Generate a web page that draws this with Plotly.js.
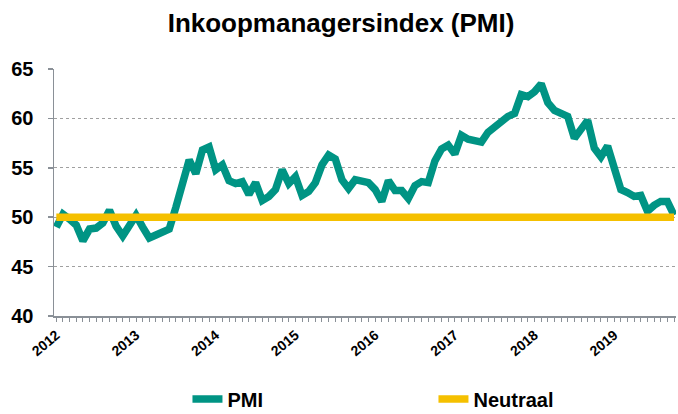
<!DOCTYPE html>
<html>
<head>
<meta charset="utf-8">
<script src="https://cdn.plot.ly/plotly-3.0.1.min.js"></script>
<style>
  html, body { margin: 0; padding: 0; background: #fff; }
  #chart { width: 678px; height: 414px; }
</style>
</head>
<body>
<div id="chart"></div>
<script>
// Months Jan 2012 .. Oct 2019
const years = ["2012", "2013", "2014", "2015", "2016", "2017", "2018", "2019"];
const months = [];
years.forEach(function (y) {
  for (let m = 1; m <= 12; m++) {
    if (y === "2019" && m > 10) break;
    months.push(y + "-" + (m < 10 ? "0" + m : "" + m));
  }
});

// PMI values
const pmi = [
  49.0, 50.3, 49.8, 49.2, 47.6, 48.8, 48.9, 49.4, 50.7, 49.1, 48.1, 49.1,
  50.2, 49.0, 47.9, 48.2, 48.6, 48.8, 51.0, 53.4, 55.8, 54.4, 56.8, 57.1,
  54.8, 55.3, 53.7, 53.4, 53.6, 52.3, 53.5, 51.7, 52.1, 52.8, 54.8, 53.4,
  54.1, 52.2, 52.6, 53.5, 55.3, 56.3, 55.9, 53.8, 52.9, 53.8, 53.6, 53.5,
  52.8, 51.6, 53.7, 52.7, 52.7, 51.9, 53.2, 53.6, 53.5, 55.7, 56.9, 57.3,
  56.4, 58.3, 57.9, 57.8, 57.6, 58.6, 59.1, 59.8, 60.2, 60.5, 62.4, 62.2,
  62.7, 63.5, 61.6, 60.8, 60.5, 60.2, 58.0, 59.0, 59.8, 57.0, 56.1, 57.2,
  55.0, 52.8, 52.5, 52.1, 52.2, 50.6, 51.2, 51.6, 51.6, 50.2
];
const neutraal = months.map(function () { return 50; });

const tickText = months.map(function (m) { return m.slice(5) === "01" ? m.slice(0, 4) : ""; });

const FONT = "Liberation Sans, Arial, Helvetica, sans-serif";

const data = [
  {
    x: months, y: pmi, name: "PMI", type: "scatter", mode: "lines",
    line: { color: "#009484", width: 7.5 }
  },
  {
    x: months, y: neutraal, name: "Neutraal", type: "scatter", mode: "lines",
    line: { color: "#F5C000", width: 7.5 }
  }
];

const layout = {
  width: 678, height: 414,
  margin: { l: 54, r: 2, t: 69, b: 98, autoexpand: false },
  paper_bgcolor: "#ffffff", plot_bgcolor: "#ffffff",
  font: { family: FONT, color: "#000000" },
  title: {
    text: "Inkoopmanagersindex (PMI)",
    font: { family: FONT, size: 26, weight: "bold", color: "#000000" },
    x: 0.503, xanchor: "center", xref: "container",
    y: 0.945, yanchor: "middle", yref: "container"
  },
  xaxis: {
    type: "category",
    range: [-0.35, 93.3],
    tickmode: "array",
    tickvals: months,
    ticktext: tickText,
    tickangle: -40,
    tickfont: { family: FONT, size: 14, weight: "bold", color: "#000000" },
    ticks: "outside", ticklen: 4, tickwidth: 1, tickcolor: "#8a9097",
    showline: true, linecolor: "#8a9097", linewidth: 1.5,
    showgrid: false, zeroline: false, fixedrange: true
  },
  yaxis: {
    range: [40, 65],
    tickvals: [40, 45, 50, 55, 60, 65],
    tickfont: { family: FONT, size: 20, weight: "bold", color: "#000000" },
    ticks: "outside", ticklen: 5, tickwidth: 1.5, tickcolor: "#8a9097",
    ticklabelstandoff: 10,
    showline: true, linecolor: "#8a9097", linewidth: 1.5,
    showgrid: true, gridcolor: "#a0a0a0", gridwidth: 1, griddash: "dot",
    zeroline: false, fixedrange: true
  },
  showlegend: true,
  legend: {
    orientation: "h",
    x: 0.2765, xanchor: "left", xref: "container",
    y: 0.036, yanchor: "middle", yref: "container",
    entrywidth: 201, entrywidthmode: "pixels",
    font: { family: FONT, size: 20, weight: "bold", color: "#000000" },
    bgcolor: "rgba(0,0,0,0)"
  }
};

Plotly.newPlot("chart", data, layout, { displayModeBar: false, staticPlot: true });
</script>
</body>
</html>
